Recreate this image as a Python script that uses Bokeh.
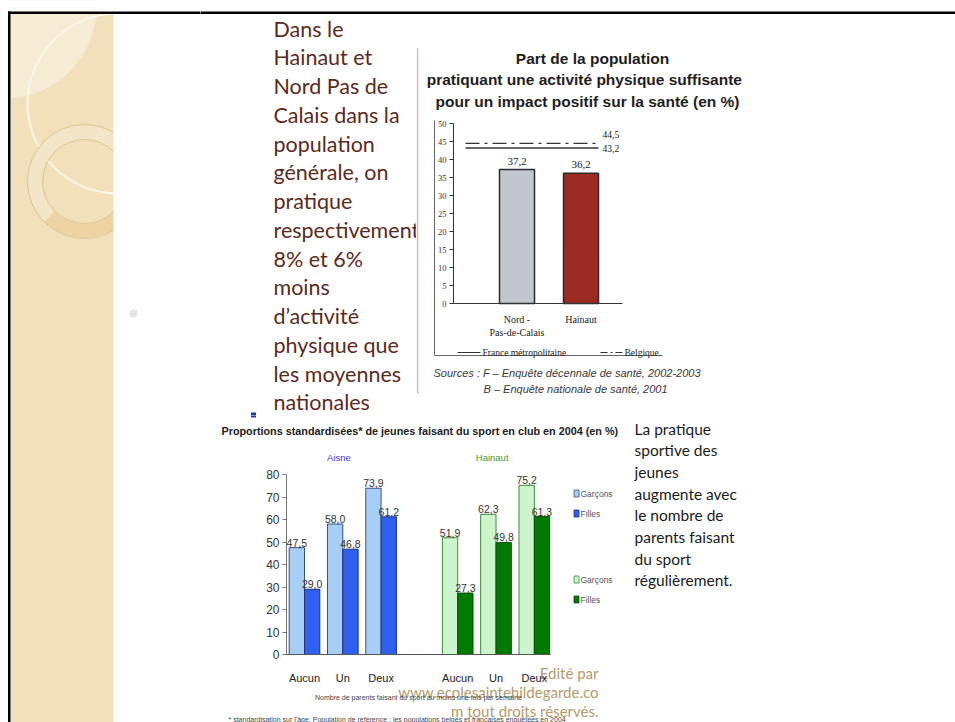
from bokeh.plotting import figure
from bokeh.models import Range1d, LinearAxis, FixedTicker, ColumnDataSource
from bokeh.layouts import row, column
from bokeh.embed import file_html
from bokeh.resources import INLINE
from bokeh.core.properties import value
import math

# ---------------- data ----------------
left_text_lines = ["Dans le", "Hainaut et", "Nord Pas de", "Calais dans la", "population",
                   "générale, on", "pratique", "respectivement", "8% et 6%", "moins",
                   "d’activité", "physique que", "les moyennes", "nationales"]
right_text_lines = ["La pratique", "sportive des", "jeunes", "augmente avec", "le nombre de",
                    "parents faisant", "du sport", "régulièrement."]

c1_title = ["Part de la population", "pratiquant  une activité physique suffisante",
            "pour un impact positif sur la santé (en %)"]
c1_categories = ["Nord -\nPas-de-Calais", "Hainaut"]
c1_values = [37.2, 36.2]
c1_colors = ["#c3c6cc", "#9b2b22"]
c1_ref_names = ["France métropolitaine", "Belgique"]
c1_ref_values = [43.2, 44.5]
c1_yticks = list(range(0, 51, 5))
c1_sources = ["Sources : F – Enquête décennale de santé, 2002-2003",
              "B – Enquête nationale de santé, 2001"]

c2_title = "Proportions standardisées* de jeunes faisant du sport en club en 2004 (en %)"
c2_regions = ["Aisne", "Hainaut"]
c2_parents = ["Aucun", "Un", "Deux"]
c2_aisne_garcons = [47.5, 58.0, 73.9]
c2_aisne_filles = [29.0, 46.8, 61.2]
c2_hainaut_garcons = [51.9, 62.3, 75.2]
c2_hainaut_filles = [27.3, 49.8, 61.3]
c2_series_names = ["Garçons", "Filles"]
c2_yticks = list(range(0, 81, 10))
c2_xlabel = "Nombre de parents faisant du sport au moins une fois par semaine"
c2_footnote = ("* standardisation sur l'âge. Population de référence : les populations belges "
               "et françaises enquêtées en 2004")
credit_lines = ["Edité par", "www.ecolesaintehildegarde.co", "m tout droits réservés."]

# ---------------- styles ----------------
LATO = value("Lato")
SANS = value("Liberation Sans")
SERIF = value("Liberation Serif")
PX = dict(x_range_name="px", y_range_name="px")


def fmt(v):
    return f"{v:.1f}".replace(".", ",")


def canvas(w, h, xr=None, yr=None):
    p = figure(width=w, height=h,
               x_range=xr if xr is not None else Range1d(0, w),
               y_range=yr if yr is not None else Range1d(h, 0),
               output_backend="svg", toolbar_location=None,
               x_axis_location=None, y_axis_location=None, min_border=0,
               outline_line_color=None, background_fill_color="white",
               border_fill_color="white")
    p.grid.visible = False
    p.extra_x_ranges = {"px": Range1d(0, w)}
    p.extra_y_ranges = {"px": Range1d(h, 0)}
    return p


LEFT_W = 200                     # left panel: margin, border and beige strip (white beyond x=113)
TOP_H, ROW1_H, ROW2_H = 15, 400, 307
STRIP_R = 113

# ---------------- left panel with decorative strip ----------------
left = canvas(LEFT_W, 722)
left.quad(left=10, right=STRIP_R, top=13.5, bottom=760, fill_color="#f1e0ba", line_color=None)
left.circle(x=4, y=6, radius=92, fill_color="#f6ecd6", line_color=None)
left.circle(x=117, y=103, radius=90, fill_color=None, line_color="#fbf6ea", line_width=2)
left.annulus(x=84, y=181, inner_radius=42, outer_radius=57, fill_color="#f3e6c8",
             line_color="#dcc392", line_width=1)
left.annular_wedge(x=84, y=181, inner_radius=42.5, outer_radius=56.5,
                   start_angle=-0.75 * math.pi, end_angle=0.25 * math.pi,
                   fill_color="#e9cc94", fill_alpha=0.75, line_color=None)
left.quad(left=STRIP_R, right=LEFT_W + 10, top=-10, bottom=760, fill_color="white", line_color=None)
left.quad(left=-10, right=LEFT_W + 10, top=-10, bottom=11, fill_color="white", line_color=None)
left.quad(left=-10, right=7.5, top=-10, bottom=760, fill_color="white", line_color=None)
left.quad(left=7.5, right=LEFT_W + 10, top=11, bottom=13.5, fill_color="black", line_color=None)
left.quad(left=7.5, right=10, top=11, bottom=760, fill_color="black", line_color=None)
left.circle(x=[133], y=[313], radius=4, fill_color="#e4e4e4", line_color=None)

# ---------------- top border band ----------------
topb = canvas(955 - LEFT_W, TOP_H)
topb.quad(left=-5, right=960, top=11, bottom=13.5, fill_color="black", line_color=None)

# ---------------- left text ----------------
T1X, T1Y = LEFT_W, TOP_H
t1 = canvas(416 - T1X, ROW1_H)
t1.text(x=[273 - T1X] * len(left_text_lines),
        y=[28 - T1Y + 28.75 * i for i in range(len(left_text_lines))],
        text=left_text_lines, text_font=LATO, text_font_size="21.5px", text_color="#5a2b1d",
        text_baseline="middle", text_align="left")
t1.rect(x=[253 - T1X], y=[414.5 - T1Y], width=5, height=5, fill_color="#1b3db0", line_color=None)

# ---------------- chart 1 ----------------
C1X, C1Y = 416, TOP_H


def c1x(X):
    return (X - 516.5) / 64.0


def c1y(Y):
    return (303.0 - Y) / 3.6


p1 = canvas(955 - C1X, ROW1_H, xr=Range1d(c1x(416), c1x(955)), yr=Range1d(c1y(C1Y + ROW1_H), c1y(C1Y)))
p1.segment(x0=[1], y0=[48 - C1Y], x1=[1], y1=[393 - C1Y], line_color="#f2a7bf", line_width=1.5, **PX)
p1.text(x=[592 - C1X, 586 - C1X, 587 - C1X], y=[58 - C1Y, 79 - C1Y, 101 - C1Y], text=c1_title,
        text_font=SANS, text_font_style="bold", text_font_size="15.5px", text_color="#1e1e1e",
        text_align="center", text_baseline="middle", **PX)
p1.line(x=[434 - C1X, 434 - C1X, 662 - C1X], y=[120 - C1Y, 355 - C1Y, 355 - C1Y],
        line_color="#666666", line_width=1, **PX)

src1 = ColumnDataSource(dict(x=list(range(len(c1_values))), top=c1_values, color=c1_colors,
                             label=[fmt(v) for v in c1_values]))
p1.vbar(x="x", top="top", bottom=0, width=35 / 64, fill_color="color", line_color="#2b2b2b",
        line_width=1.5, source=src1)
p1.text(x="x", y="top", text="label", source=src1, y_offset=-5, text_baseline="bottom",
        text_align="center", text_font=SERIF, text_font_size="11px", text_color="#222222")

ref_dash = ["solid", "14 5 3 5"]
ref_offsets = [1, -9]
for v, d, off in zip(c1_ref_values, ref_dash, ref_offsets):
    p1.segment(x0=[c1x(465)], x1=[c1x(598)], y0=[v], y1=[v], line_color="#333333",
               line_width=1.3, line_dash=d)
    p1.text(x=[c1x(602)], y=[v], text=[fmt(v)], y_offset=off, text_baseline="middle",
            text_align="left", text_font=SERIF, text_font_size="9.5px", text_color="#222222")

# legend of reference lines
p1.segment(x0=[457 - C1X], x1=[480 - C1X], y0=[352 - C1Y], y1=[352 - C1Y], line_color="#333333",
           line_width=1, **PX)
p1.segment(x0=[600 - C1X], x1=[622 - C1X], y0=[352 - C1Y], y1=[352 - C1Y], line_color="#333333",
           line_width=1, line_dash="7 3 2 3", **PX)
p1.text(x=[482 - C1X, 624 - C1X], y=[352 - C1Y, 352 - C1Y], text=c1_ref_names,
        text_font=SERIF, text_font_size="9.5px", text_color="#222222", text_baseline="middle",
        text_align="left", **PX)
p1.text(x=[433 - C1X, 483 - C1X], y=[372 - C1Y, 388 - C1Y], text=c1_sources,
        text_font=SANS, text_font_style="italic", text_font_size="11px", text_color="#3a3a3a",
        text_baseline="middle", text_align="left", **PX)

y1ax = LinearAxis(fixed_location=c1x(453), bounds=(0, 50), ticker=FixedTicker(ticks=c1_yticks),
                  axis_line_color="#333333", major_tick_line_color="#333333", major_tick_out=4,
                  major_tick_in=0, minor_tick_line_color=None,
                  major_label_text_font="Liberation Serif", major_label_text_font_size="8.5px",
                  major_label_text_color="#333333", major_label_standoff=3)
p1.add_layout(y1ax, "left")
x1ax = LinearAxis(fixed_location=0, bounds=(c1x(453), c1x(622)),
                  ticker=FixedTicker(ticks=list(range(len(c1_categories)))),
                  major_label_overrides={i: c for i, c in enumerate(c1_categories)},
                  axis_line_color="#333333", major_tick_line_color=None, minor_tick_line_color=None,
                  major_label_text_font="Liberation Serif", major_label_text_font_size="10px",
                  major_label_text_color="#222222", major_label_standoff=4)
p1.add_layout(x1ax, "below")

# ---------------- chart 2 ----------------
C2X, C2Y = LEFT_W, TOP_H + ROW1_H


def c2x(X):
    return (X - 304.0) / 38.3


def c2y(Y):
    return (654.0 - Y) / 2.25


p2 = canvas(630 - C2X, ROW2_H, xr=Range1d(c2x(C2X), c2x(630)), yr=Range1d(c2y(722), c2y(C2Y)))
p2.rect(x=[253 - C2X], y=[414.5 - C2Y], width=5, height=5, fill_color="#1b3db0", line_color=None, **PX)
p2.text(x=[221 - C2X], y=[430 - C2Y], text=[c2_title], text_font=SANS, text_font_style="bold",
        text_font_size="10.8px", text_color="#222222", text_baseline="middle", text_align="left", **PX)

n_par = len(c2_parents)
region_slots = [[r * (n_par + 1) + j for j in range(n_par)] for r in range(len(c2_regions))]
region_colors = [("#a7cff6", "#3060f0"), ("#cdf5cd", "#007a00")]
region_lines = [("#3a4f86", "#22307a"), ("#3a8a3a", "#0b4f0b")]
region_label_colors = ["#3b3bd8", "#3c9c3c"]
region_data = [(c2_aisne_garcons, c2_aisne_filles), (c2_hainaut_garcons, c2_hainaut_filles)]
dodge = [-0.2, 0.2]

for r, (slots, series) in enumerate(zip(region_slots, region_data)):
    for s_i, vals in enumerate(series):
        src = ColumnDataSource(dict(x=[k + dodge[s_i] for k in slots], top=vals,
                                    label=[fmt(v) for v in vals]))
        p2.vbar(x="x", top="top", bottom=0, width=0.4, fill_color=region_colors[r][s_i],
                line_color=region_lines[r][s_i], line_width=1, source=src)
        p2.text(x="x", y="top", text="label", source=src, y_offset=-1, text_baseline="bottom",
                text_align="center", text_font=SANS, text_font_size="10.5px", text_color="#333333")
    p2.text(x=[sum(slots) / len(slots) - 0.1], y=[457 - C2Y], text=[c2_regions[r]], y_range_name="px",
            text_font=SANS, text_font_size="9.5px", text_color=region_label_colors[r],
            text_baseline="middle", text_align="center")

# legends
leg_y = [[493, 513], [579, 599]]
for r in range(len(c2_regions)):
    for s_i, name in enumerate(c2_series_names):
        yy = leg_y[r][s_i] - C2Y
        p2.rect(x=[576 - C2X], y=[yy], width=5, height=7, fill_color=region_colors[r][s_i],
                line_color=region_lines[r][s_i], line_width=0.8, **PX)
        p2.text(x=[580 - C2X], y=[yy], text=[name], text_font=SANS, text_font_size="8.5px",
                text_color="#555555", text_baseline="middle", text_align="left", **PX)

all_slots = [k for slots in region_slots for k in slots]
y2ax = LinearAxis(fixed_location=c2x(286), bounds=(0, 80), ticker=FixedTicker(ticks=c2_yticks),
                  axis_line_color="#777777", major_tick_line_color="#777777", major_tick_out=4,
                  major_tick_in=0, minor_tick_line_color=None, major_label_text_font="Liberation Sans",
                  major_label_text_font_size="12px", major_label_text_color="#333333",
                  major_label_standoff=3)
p2.add_layout(y2ax, "left")
x2ax = LinearAxis(fixed_location=0, bounds=(c2x(286), c2x(550)), ticker=FixedTicker(ticks=all_slots),
                  major_label_overrides={k: c2_parents[i % n_par] for i, k in enumerate(all_slots)},
                  axis_line_color="#555555", major_tick_line_color=None, minor_tick_line_color=None,
                  major_tick_out=0, major_tick_in=0,
                  major_label_text_font="Liberation Sans", major_label_text_font_size="11px",
                  major_label_text_color="#222222", major_label_standoff=17,
                  axis_label=c2_xlabel, axis_label_text_font="Liberation Sans",
                  axis_label_text_font_size="7px", axis_label_text_font_style="normal",
                  axis_label_text_color="#444444", axis_label_standoff=7)
p2.add_layout(x2ax, "below")

p2.text(x=[228 - C2X], y=[719 - C2Y], text=[c2_footnote], text_font=SANS, text_font_size="7px",
        text_color="#444444", text_baseline="middle", text_align="left", **PX)
p2.text(x=[598 - C2X] * 3, y=[672 - C2Y, 691 - C2Y, 710 - C2Y], text=credit_lines, text_font=LATO,
        text_font_size="15px", text_color="#b29b6c", text_baseline="middle", text_align="right", **PX)

# ---------------- right text ----------------
T2X, T2Y = 630, TOP_H + ROW1_H
t2 = canvas(955 - T2X, ROW2_H)
t2.text(x=[634 - T2X] * len(right_text_lines),
        y=[428 - T2Y + 21.7 * i for i in range(len(right_text_lines))],
        text=right_text_lines, text_font=LATO, text_font_size="15.5px", text_color="#1a1a1a",
        text_baseline="middle", text_align="left")

layout = row(left, column(topb, row(t1, p1), row(p2, t2)))
open("out.html", "w").write(file_html(layout, INLINE))
